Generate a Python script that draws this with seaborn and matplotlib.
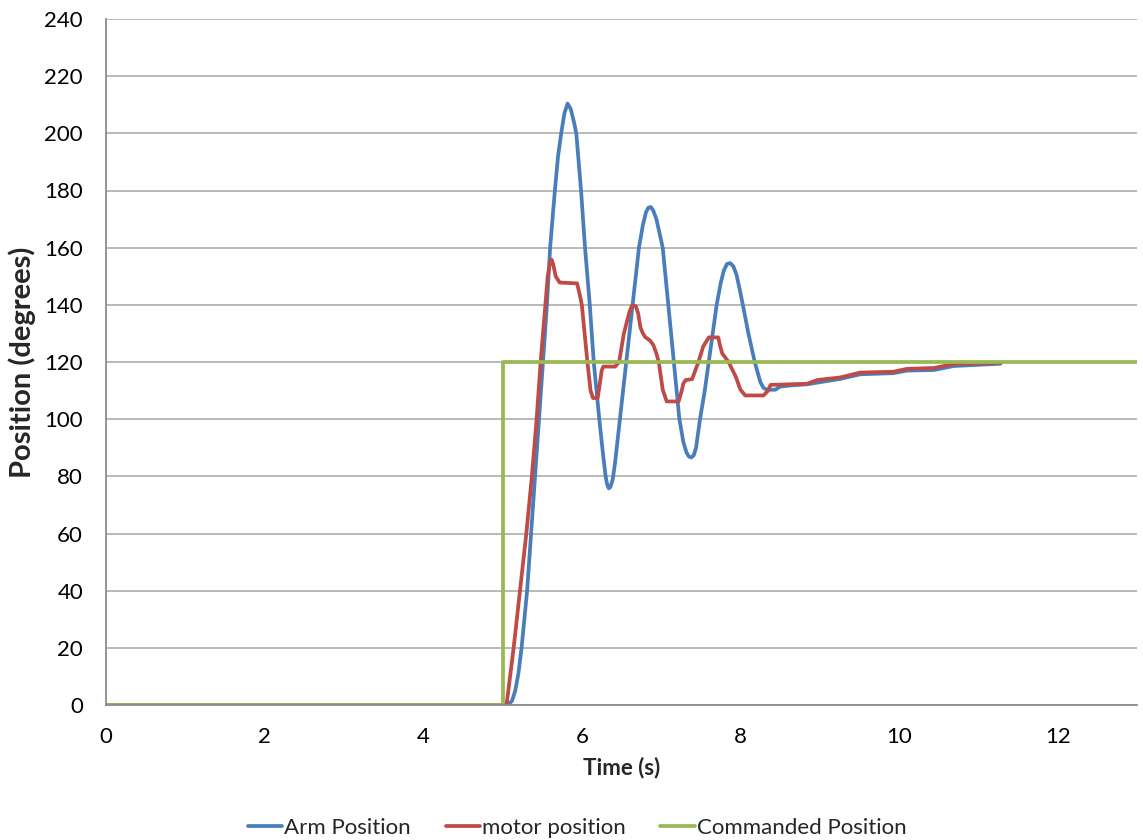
import matplotlib
matplotlib.use("Agg")
import matplotlib.pyplot as plt
import seaborn as sns
import pandas as pd

# Measured arm position (degrees) vs time (s)
arm_t = [0.0, 5.07, 5.12, 5.16, 5.20, 5.24, 5.31, 5.36, 5.41, 5.46, 5.51, 5.56, 5.60,
         5.66, 5.70, 5.74, 5.78, 5.82, 5.86, 5.90, 5.93, 5.99, 6.04, 6.10, 6.15, 6.22,
         6.27, 6.30, 6.32, 6.34, 6.36, 6.39, 6.42, 6.48, 6.56, 6.64, 6.72, 6.77, 6.81,
         6.84, 6.87, 6.90, 6.94, 6.98, 7.02, 7.09, 7.16, 7.23, 7.28, 7.32, 7.35, 7.38,
         7.41, 7.44, 7.49, 7.55, 7.60, 7.70, 7.75, 7.79, 7.83, 7.87, 7.91, 7.95, 7.99,
         8.03, 8.10, 8.18, 8.25, 8.29, 8.33, 8.44, 8.50, 8.63, 8.84, 9.26, 9.51, 9.93,
         10.10, 10.44, 10.69, 11.28]
arm_pos = [0.0, 0.0, 1.5, 5.0, 11.0, 20.0, 40.0, 60.0, 80.0, 100.0, 120.0, 140.0, 160.0,
           180.0, 192.0, 200.0, 207.0, 210.4, 208.5, 204.0, 200.0, 180.0, 160.0, 140.0,
           120.0, 100.0, 87.0, 80.0, 77.0, 75.8, 76.3, 79.0, 85.0, 100.0, 120.0, 140.0,
           160.0, 168.0, 172.5, 174.0, 174.2, 173.0, 170.0, 165.0, 160.0, 140.0, 120.0,
           100.0, 92.0, 88.3, 86.9, 86.6, 87.3, 90.0, 100.0, 110.0, 120.0, 140.0, 147.5,
           152.0, 154.3, 154.6, 153.5, 150.5, 145.5, 140.0, 130.0, 120.0, 113.0, 111.0,
           110.3, 110.3, 111.4, 111.8, 112.2, 114.1, 115.7, 116.1, 117.0, 117.2, 118.6,
           119.4]

# Motor encoder position (degrees) vs time (s)
motor_t = [0.0, 5.05, 5.14, 5.22, 5.30, 5.37, 5.43, 5.48, 5.54, 5.57, 5.60, 5.62, 5.64,
           5.67, 5.72, 5.94, 5.97, 6.00, 6.07, 6.11, 6.14, 6.20, 6.23, 6.25, 6.27, 6.42,
           6.47, 6.53, 6.60, 6.63, 6.68, 6.71, 6.74, 6.77, 6.80, 6.86, 6.90, 6.94, 6.97,
           7.02, 7.07, 7.22, 7.26, 7.28, 7.31, 7.39, 7.47, 7.53, 7.60, 7.72, 7.74, 7.77,
           7.85, 7.94, 8.00, 8.06, 8.29, 8.34, 8.38, 8.63, 8.84, 8.97, 9.26, 9.51, 9.93,
           10.10, 10.44, 10.69, 11.28]
motor_pos = [0.0, 0.0, 20.0, 40.0, 60.0, 80.0, 100.0, 120.0, 140.0, 150.0, 155.0, 155.8,
             154.0, 150.0, 147.8, 147.5, 144.0, 140.0, 120.0, 110.0, 107.4, 107.4, 113.0,
             117.0, 118.4, 118.4, 120.0, 130.0, 137.5, 139.6, 139.6, 137.0, 132.0, 130.0,
             128.7, 127.5, 126.0, 123.0, 120.0, 110.3, 106.2, 106.2, 110.0, 112.5, 113.7,
             114.0, 120.0, 125.4, 128.6, 128.6, 126.0, 123.0, 120.0, 114.9, 110.3, 108.3,
             108.3, 109.7, 112.0, 112.2, 112.4, 113.7, 114.6, 116.3, 116.6, 117.6, 117.9,
             119.3, 119.7]

# Commanded step input
cmd_t = [0.0, 5.0, 5.0, 13.0]
cmd_pos = [0.0, 0.0, 120.0, 120.0]

y_ticks = list(range(0, 241, 20))
x_ticks = list(range(0, 13, 2))

series = [
    ("Arm Position", arm_t, arm_pos, "#4A7EBB"),
    ("motor position", motor_t, motor_pos, "#BE4B48"),
    ("Commanded Position", cmd_t, cmd_pos, "#98B954"),
]

sns.set_theme(style="white")
plt.rcParams["font.family"] = ["Lato", "DejaVu Sans"]

fig = plt.figure(figsize=(11.43, 8.40), dpi=100)
ax = fig.add_axes([106 / 1143, 1 - 705 / 840, (1137 - 106) / 1143, (705 - 19) / 840])

for name, t, v, color in series:
    df = pd.DataFrame({"Time": t, "Position": v})
    sns.lineplot(data=df, x="Time", y="Position", ax=ax, color=color, lw=2.7,
                 estimator=None, sort=False, label=name, solid_joinstyle="round")

ax.set_xlim(0, 13)
ax.set_ylim(0, 240)
ax.set_xticks(x_ticks)
ax.set_yticks(y_ticks)

grid_c = "#B3B3B3"
ax.yaxis.grid(True, color=grid_c, lw=1.3)
ax.xaxis.grid(False)
ax.set_axisbelow(True)
for s in ["top", "right"]:
    ax.spines[s].set_visible(False)
for s in ["left", "bottom"]:
    ax.spines[s].set_color("#8C8C8C")
    ax.spines[s].set_linewidth(1.3)

ax.tick_params(axis="both", which="major", direction="out", length=6, width=1.3,
               color="#8C8C8C", labelsize=16, labelcolor="black")
ax.tick_params(axis="y", pad=10.5)
ax.tick_params(axis="x", pad=10)

ax.set_xlabel("Time (s)", fontsize=16, fontweight="bold", labelpad=7)
ax.set_ylabel("Position (degrees)", fontsize=21, fontweight="bold", labelpad=6)

handles, labels = ax.get_legend_handles_labels()
ax.get_legend().remove()
fig.legend(handles, labels, loc="lower center", bbox_to_anchor=(0.505, -0.021), ncol=3,
           frameon=False, fontsize=16, handlelength=1.55, handletextpad=0.1,
           columnspacing=1.55)

fig.savefig("out.png", dpi=100)
